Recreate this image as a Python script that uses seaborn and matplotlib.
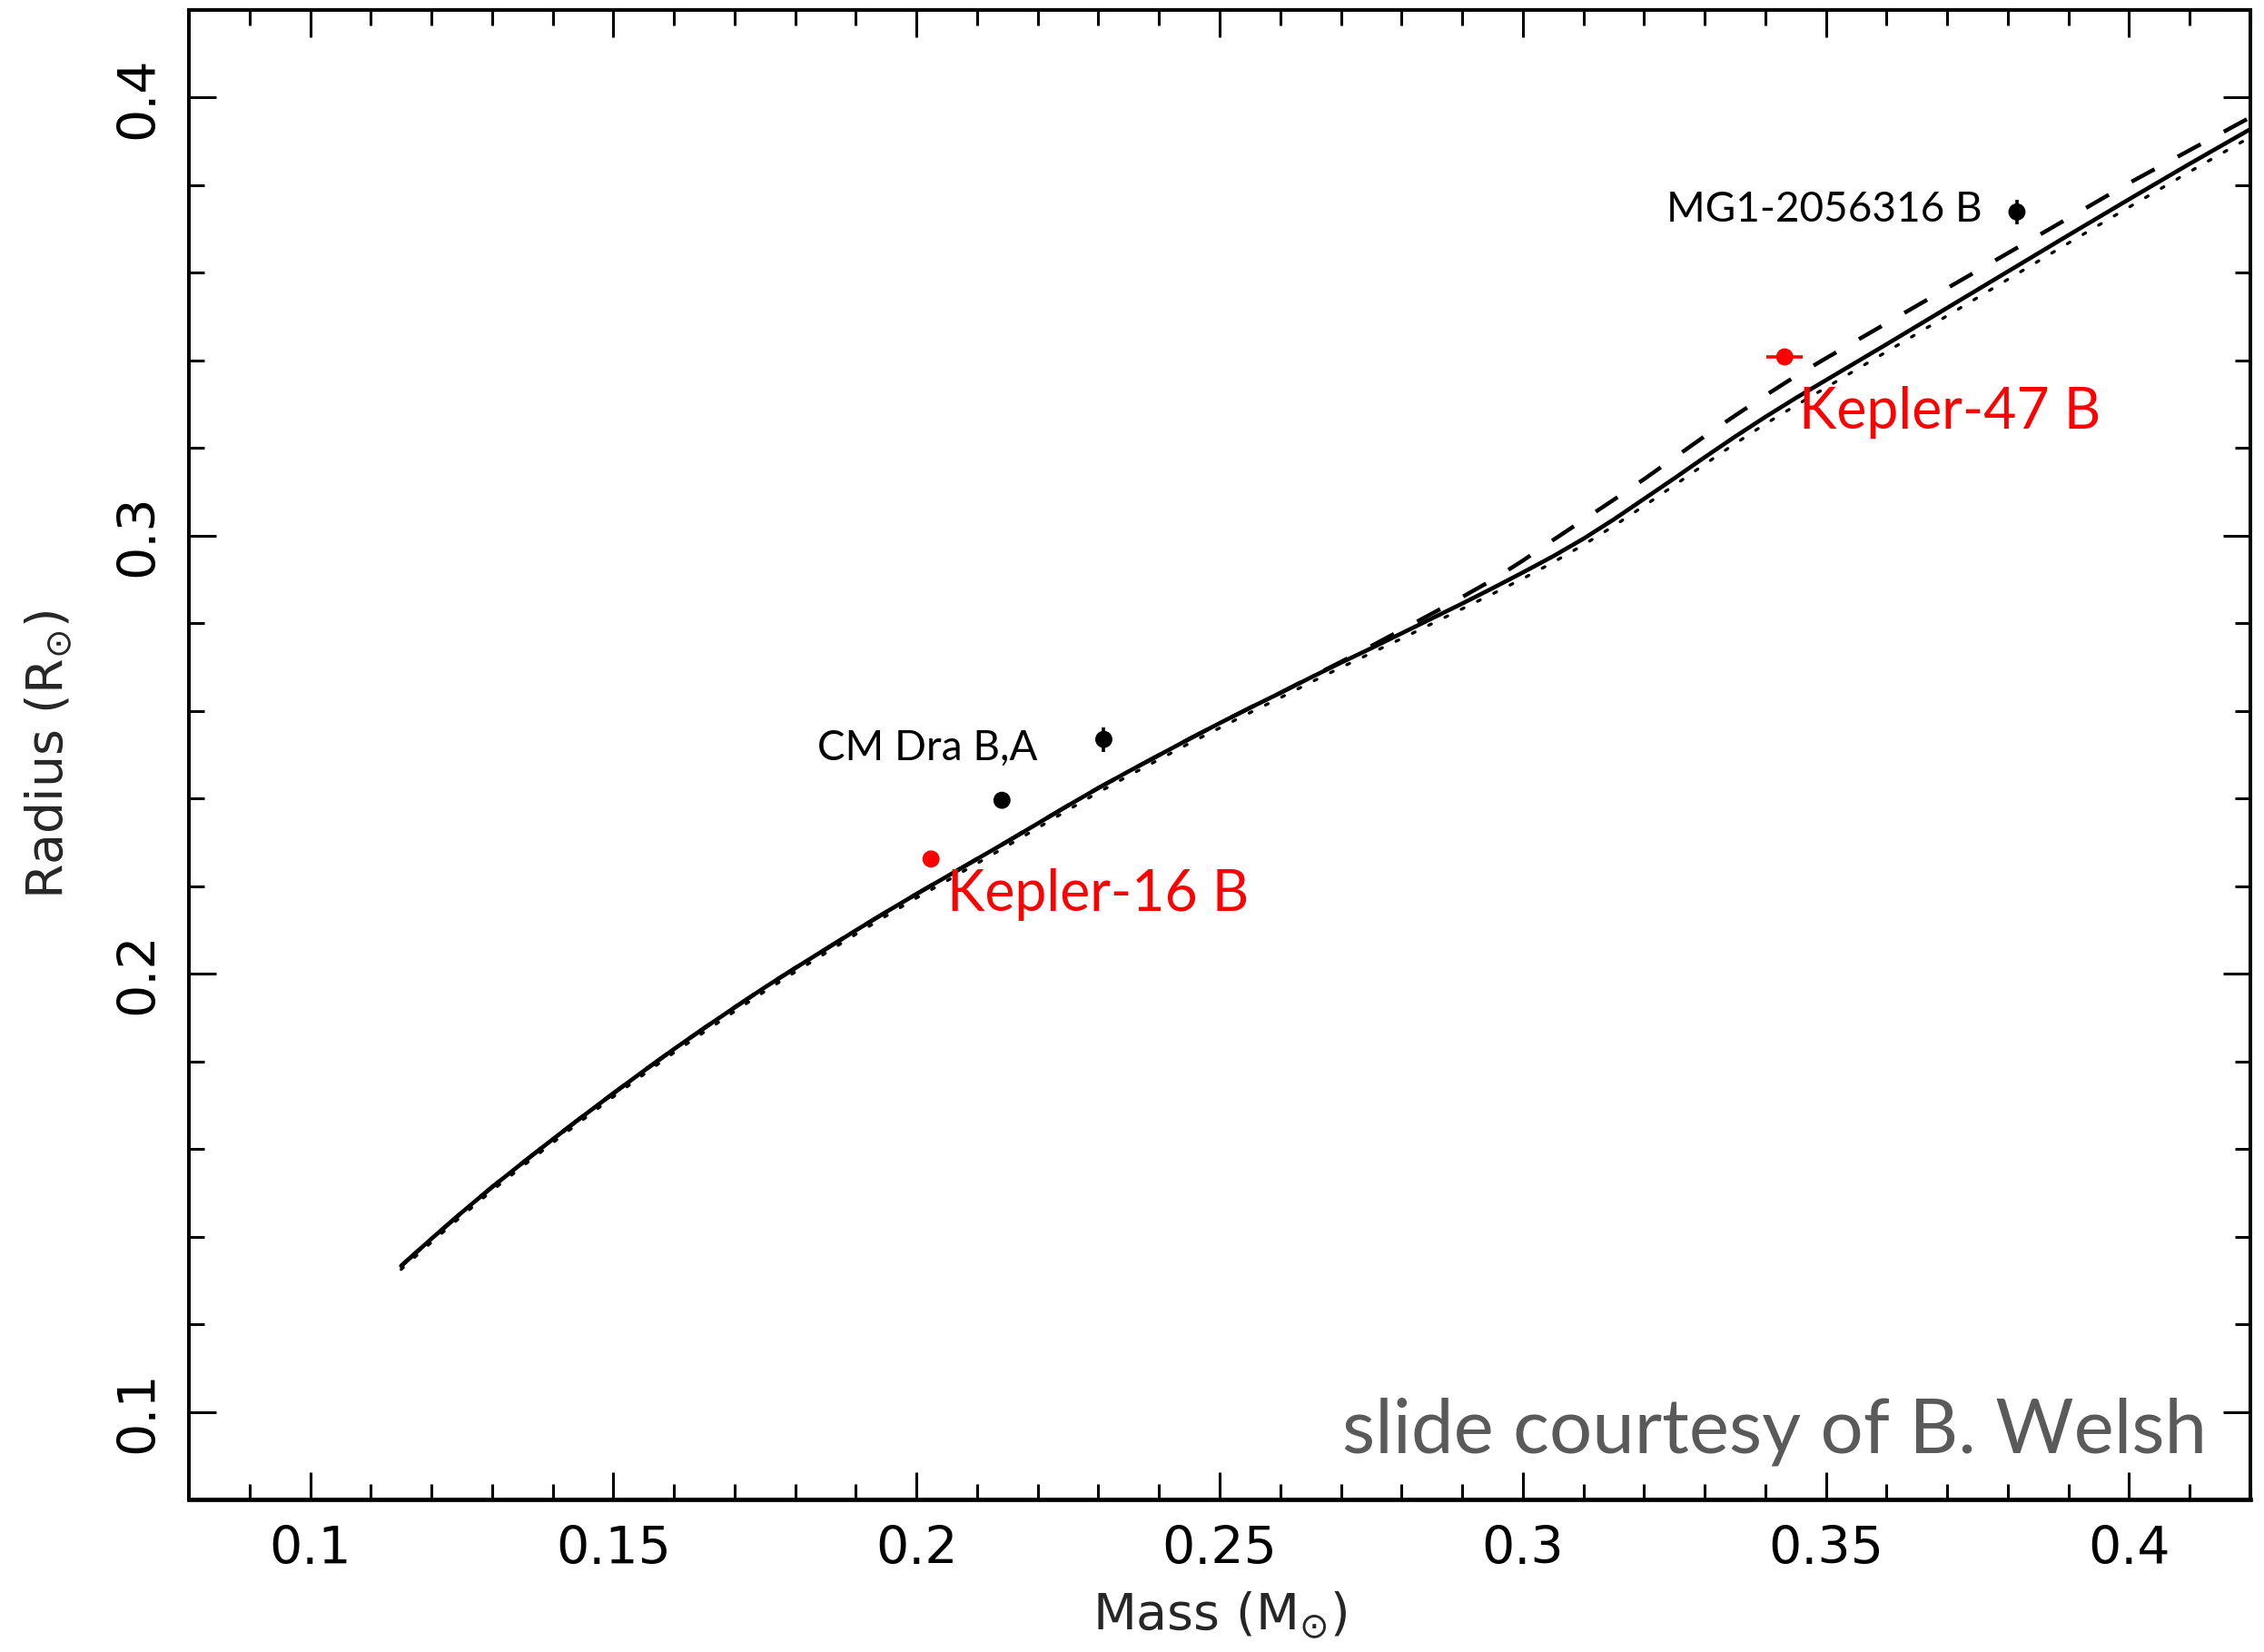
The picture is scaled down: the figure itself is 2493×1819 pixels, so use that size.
import numpy as np
import pandas as pd
import matplotlib
matplotlib.use("Agg")
import matplotlib.pyplot as plt
import seaborn as sns
from matplotlib.ticker import MultipleLocator, FixedLocator

# ---------------- data ----------------
mass_grid = [0.115, 0.120, 0.125, 0.130, 0.135, 0.140, 0.145, 0.150, 0.155, 0.160,
             0.165, 0.170, 0.175, 0.180, 0.185, 0.190, 0.195, 0.200, 0.205, 0.210,
             0.215, 0.220, 0.225, 0.230, 0.235, 0.240, 0.245, 0.250, 0.255, 0.260,
             0.265, 0.270, 0.275, 0.280, 0.285, 0.290, 0.295, 0.300, 0.305, 0.310,
             0.315, 0.320, 0.325, 0.330, 0.335, 0.340, 0.345, 0.350, 0.355, 0.360,
             0.370, 0.380, 0.390, 0.400, 0.410, 0.420]

radius_solid = [0.1333, 0.1395, 0.1455, 0.1513, 0.1568, 0.1622, 0.1675, 0.1727, 0.1778, 0.1828,
                0.1876, 0.1923, 0.1969, 0.2013, 0.2056, 0.2099, 0.2141, 0.2182, 0.2222, 0.2262,
                0.2302, 0.2343, 0.2384, 0.2424, 0.2462, 0.2499, 0.2536, 0.2572, 0.2607, 0.2641,
                0.2676, 0.2710, 0.2743, 0.2777, 0.2811, 0.2845, 0.2880, 0.2916, 0.2953, 0.2993,
                0.3037, 0.3084, 0.3131, 0.3179, 0.3226, 0.3271, 0.3314, 0.3355, 0.3396, 0.3437,
                0.3520, 0.3603, 0.3686, 0.3768, 0.3849, 0.3928]

radius_dashed = [0.1333, 0.1395, 0.1455, 0.1513, 0.1568, 0.1622, 0.1675, 0.1727, 0.1778, 0.1828,
                 0.1876, 0.1923, 0.1969, 0.2013, 0.2056, 0.2099, 0.2141, 0.2182, 0.2222, 0.2262,
                 0.2302, 0.2343, 0.2384, 0.2424, 0.2462, 0.2499, 0.2536, 0.2572, 0.2607, 0.2641,
                 0.2677, 0.2712, 0.2748, 0.2785, 0.2822, 0.2860, 0.2899, 0.2943, 0.2990, 0.3036,
                 0.3082, 0.3129, 0.3178, 0.3227, 0.3274, 0.3320, 0.3364, 0.3405, 0.3445, 0.3485,
                 0.3565, 0.3645, 0.3725, 0.3805, 0.3880, 0.3955]

radius_dotted = [0.1325, 0.1387, 0.1447, 0.1505, 0.1560, 0.1614, 0.1667, 0.1719, 0.1770, 0.1820,
                 0.1867, 0.1914, 0.1960, 0.2004, 0.2047, 0.2090, 0.2132, 0.2173, 0.2212, 0.2252,
                 0.2292, 0.2333, 0.2374, 0.2414, 0.2452, 0.2489, 0.2526, 0.2561, 0.2596, 0.2630,
                 0.2665, 0.2699, 0.2732, 0.2765, 0.2799, 0.2833, 0.2867, 0.2902, 0.2939, 0.2979,
                 0.3022, 0.3068, 0.3115, 0.3163, 0.3210, 0.3255, 0.3297, 0.3338, 0.3379, 0.3420,
                 0.3502, 0.3585, 0.3668, 0.3750, 0.3831, 0.3910]

star_names = ["MG1-2056316 B", "CM Dra A", "CM Dra B", "Kepler-16 B", "Kepler-47 B"]
star_mass = [0.3815, 0.2309, 0.2141, 0.2024, 0.3432]
star_radius = [0.3739, 0.2535, 0.2396, 0.2262, 0.3408]
star_mass_err = [0.0, 0.0, 0.0, 0.0, 0.0030]
star_radius_err = [0.0028, 0.0028, 0.0, 0.0, 0.0]
star_color = ["black", "black", "black", "red", "red"]

x_major_ticks = [0.1, 0.15, 0.2, 0.25, 0.3, 0.35, 0.4]
x_tick_labels = ["0.1", "0.15", "0.2", "0.25", "0.3", "0.35", "0.4"]
y_major_ticks = [0.1, 0.2, 0.3, 0.4]
y_tick_labels = ["0.1", "0.2", "0.3", "0.4"]

# ---------------- style ----------------
sns.set_theme(style="ticks")
plt.rcParams["font.family"] = ["DejaVu Sans"]
plt.rcParams["mathtext.fontset"] = "dejavusans"

W, H = 2493, 1819
fig = plt.figure(figsize=(W / 100, H / 100), dpi=100)
fig.patch.set_facecolor("white")
ax = fig.add_axes([208 / W, 1 - 1651 / H, 2270 / W, 1640 / H])
ax.set_facecolor("white")

curves = pd.DataFrame({"mass": mass_grid, "solid": radius_solid,
                       "dashed": radius_dashed, "dotted": radius_dotted})

sns.lineplot(data=curves, x="mass", y="dotted", ax=ax, color="black",
             linewidth=2.4, linestyle=(0, (1.0, 5.0)), dash_capstyle="round")
sns.lineplot(data=curves, x="mass", y="dashed", ax=ax, color="black",
             linewidth=3.2, linestyle=(0, (6.5, 6.5)))
sns.lineplot(data=curves, x="mass", y="solid", ax=ax, color="black",
             linewidth=3.3)

stars = pd.DataFrame({"name": star_names, "mass": star_mass, "radius": star_radius,
                      "merr": star_mass_err, "rerr": star_radius_err, "color": star_color})
for _, r in stars.iterrows():
    if r.merr > 0 or r.rerr > 0:
        ax.errorbar(r.mass, r.radius, xerr=r.merr if r.merr > 0 else None,
                    yerr=r.rerr if r.rerr > 0 else None, fmt="none",
                    ecolor=r.color, elinewidth=2.6, capsize=0, zorder=4)
sns.scatterplot(data=stars, x="mass", y="radius", hue="name",
                palette=dict(zip(star_names, star_color)), s=185,
                edgecolor="none", legend=False, ax=ax, zorder=5)

# ---------------- text ----------------
ax.text(0.3237, 0.3716, "MG1-2056316 B", fontsize=33, color="black",
        family=["Lato", "DejaVu Sans"], ha="left", va="baseline")
ax.text(0.1837, 0.2489, "CM Dra B,A", fontsize=33, color="black",
        family=["Lato", "DejaVu Sans"], ha="left", va="baseline")
ax.text(0.2050, 0.2144, "Kepler-16 B", fontsize=45, color="red",
        family=["Lato", "DejaVu Sans"], ha="left", va="baseline")
ax.text(0.3455, 0.3245, "Kepler-47 B", fontsize=45, color="red",
        family=["Lato", "DejaVu Sans"], ha="left", va="baseline")
ax.text(0.4128, 0.0907, "slide courtesy of B. Welsh", fontsize=60, color="#5a5a5a",
        family=["Lato", "DejaVu Sans"], fontweight="normal", ha="right", va="baseline")

# ---------------- axes ----------------
ax.set_xlim(0.08, 0.42)
ax.set_ylim(0.08, 0.42)
ax.xaxis.set_major_locator(FixedLocator(x_major_ticks))
ax.set_xticklabels(x_tick_labels)
ax.xaxis.set_minor_locator(MultipleLocator(0.01))
ax.yaxis.set_major_locator(FixedLocator(y_major_ticks))
ax.set_yticklabels(y_tick_labels, rotation=90, va="center")
ax.yaxis.set_minor_locator(MultipleLocator(0.02))

ax.tick_params(which="both", direction="in", top=True, right=True,
               colors="black", width=2.2)
ax.tick_params(which="major", length=21.5)
ax.tick_params(which="minor", length=12)
ax.tick_params(axis="x", which="major", labelsize=41, pad=20)
ax.tick_params(axis="y", which="major", labelsize=41, pad=20)

for side in ["left", "right", "top"]:
    ax.spines[side].set_linewidth(2.9)
    ax.spines[side].set_color("black")
ax.spines["bottom"].set_linewidth(3.4)
ax.spines["bottom"].set_color("black")

ax.set_xlabel(r"Mass (M$_{\odot}$)", fontsize=40, labelpad=12)
ax.set_ylabel(r"Radius (R$_{\odot}$)", fontsize=40, labelpad=32)

fig.savefig("out.png", dpi=100, facecolor="white")
